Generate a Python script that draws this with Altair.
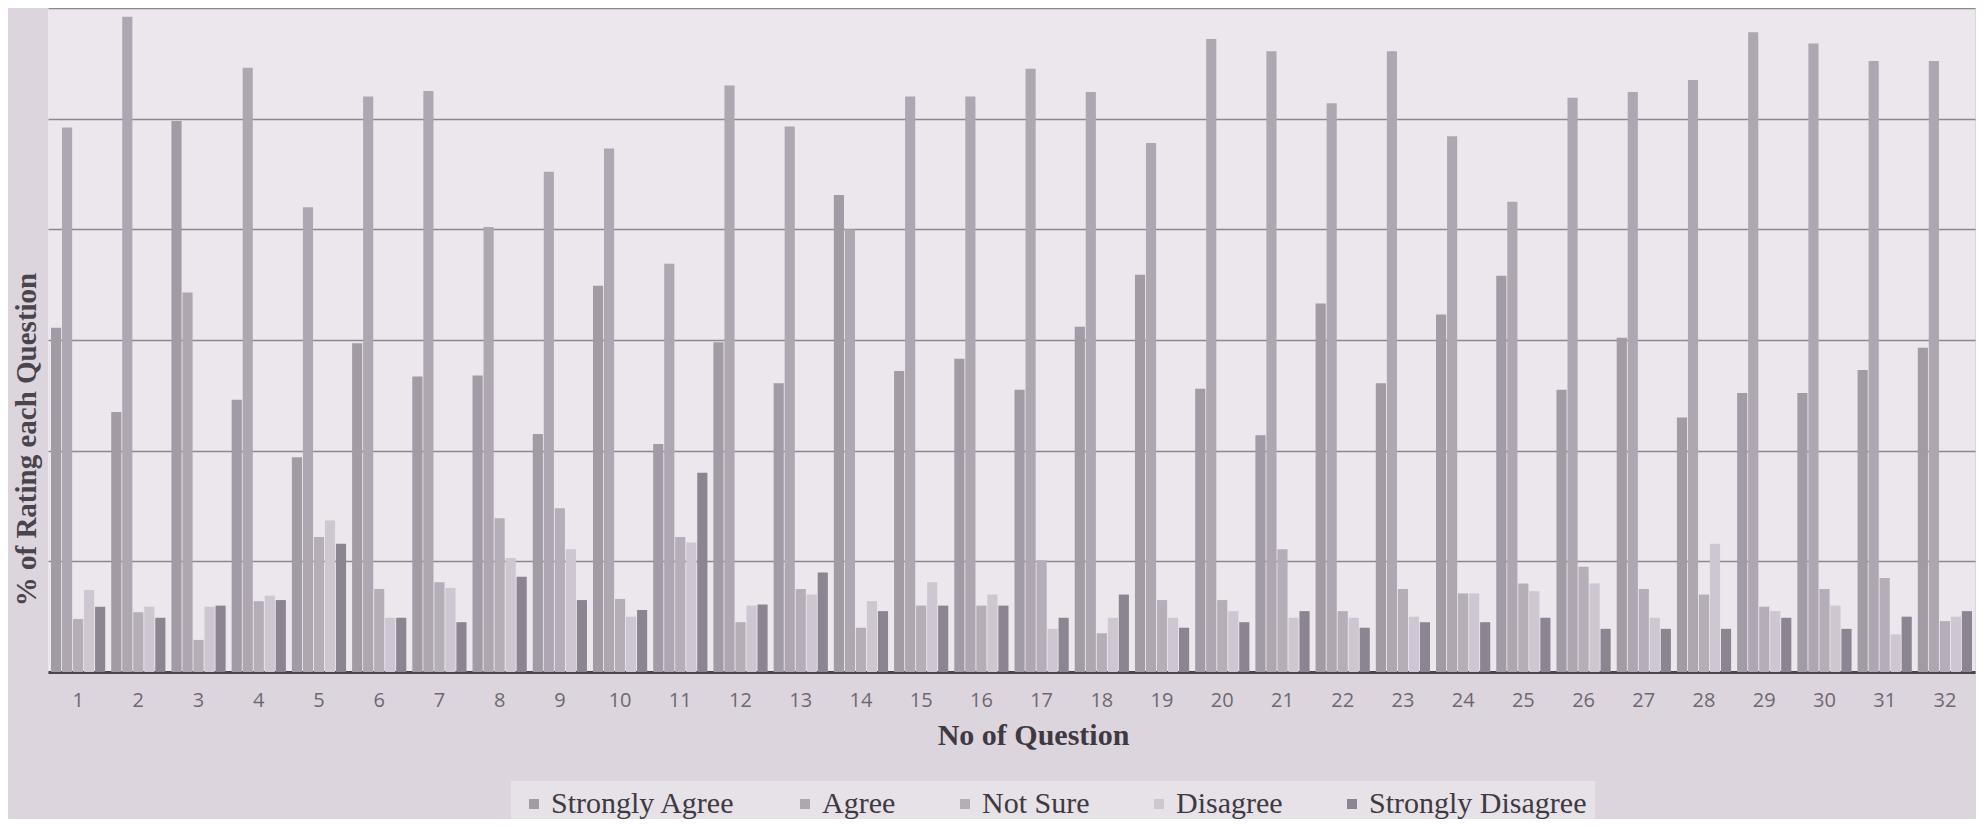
import altair as alt
import pandas as pd

questions = [str(i) for i in range(1, 33)]
series = ["Strongly Agree", "Agree", "Not Sure", "Disagree", "Strongly Disagree"]
colors = ["#a29aa5", "#aea6b1", "#b5adb8", "#cec6d1", "#8c8490"]

strongly_agree = [31.1, 23.5, 49.8, 24.6, 19.4, 29.7, 26.7, 26.8, 21.5, 34.9, 20.6, 29.8, 26.1, 43.1, 27.2, 28.3,
                  25.5, 31.2, 35.9, 25.6, 21.4, 33.3, 26.1, 32.3, 35.8, 25.5, 30.2, 23.0, 25.2, 25.2, 27.3, 29.3]
agree = [49.2, 59.2, 34.3, 54.6, 42.0, 52.0, 52.5, 40.2, 45.2, 47.3, 36.9, 53.0, 49.3, 40.0, 52.0, 52.0,
         54.5, 52.4, 47.8, 57.2, 56.1, 51.4, 56.1, 48.4, 42.5, 51.9, 52.4, 53.5, 57.8, 56.8, 55.2, 55.2]
not_sure = [4.8, 5.4, 2.9, 6.4, 12.2, 7.5, 8.1, 13.9, 14.8, 6.6, 12.2, 4.5, 7.5, 4.0, 6.0, 6.0,
            10.1, 3.5, 6.5, 6.5, 11.1, 5.5, 7.5, 7.1, 8.0, 9.5, 7.5, 7.0, 5.9, 7.5, 8.5, 4.6]
disagree = [7.4, 5.9, 5.9, 6.9, 13.7, 4.9, 7.6, 10.3, 11.1, 5.0, 11.7, 6.0, 7.0, 6.4, 8.1, 7.0,
            3.9, 4.9, 4.9, 5.5, 4.9, 4.9, 5.0, 7.1, 7.3, 8.0, 4.9, 11.6, 5.5, 6.0, 3.4, 5.0]
strongly_disagree = [5.9, 4.9, 6.0, 6.5, 11.6, 4.9, 4.5, 8.6, 6.5, 5.6, 18.0, 6.1, 9.0, 5.5, 6.0, 6.0,
                     4.9, 7.0, 4.0, 4.5, 5.5, 4.0, 4.5, 4.5, 4.9, 3.9, 3.9, 3.9, 4.9, 3.9, 5.0, 5.5]

values = [strongly_agree, agree, not_sure, disagree, strongly_disagree]
rows = []
for s, vals in zip(series, values):
    for q, v in zip(questions, vals):
        rows.append({"question": q, "series": s, "value": v})
df = pd.DataFrame(rows)

chart = alt.Chart(df).mark_bar().encode(
    x=alt.X("question:N", sort=questions,
            scale=alt.Scale(paddingInner=0.1, paddingOuter=0.05),
            axis=alt.Axis(title="No of Question", labelAngle=0, ticks=False, tickSize=0,
                          labelPadding=18, labelFont="Open Sans", labelFontSize=20,
                          labelColor="#6e6871", domainColor="#4a444c", domainWidth=3,
                          titleFont="Liberation Serif", titleFontSize=30, titleFontWeight="bold",
                          titleColor="#3f3a42", titleX=985, titleY=63, titleAlign="center",
                          titleBaseline="middle")),
    xOffset=alt.XOffset("series:N", sort=series, scale=alt.Scale(paddingInner=0.08)),
    y=alt.Y("value:Q", scale=alt.Scale(domain=[0, 60], nice=False),
            axis=alt.Axis(title="% of Rating  each Question", labels=False, ticks=False, domain=False,
                          values=[0, 10, 20, 30, 40, 50, 60], grid=True, gridColor="#8d8791",
                          gridWidth=1.5, titleFont="Liberation Serif", titleFontSize=29,
                          titleFontWeight="bold", titleColor="#4a444c", titleX=-22, titleY=431,
                          titleAngle=270, titleAlign="center", titleBaseline="middle")),
    color=alt.Color("series:N", sort=series,
                    scale=alt.Scale(domain=series, range=colors),
                    legend=alt.Legend(title=None, orient="none", direction="horizontal",
                                      legendX=463, legendY=773, symbolType="square",
                                      symbolSize=100, symbolStrokeWidth=0, labelFont="Liberation Serif",
                                      labelFontSize=30, labelColor="#3f3a42", labelOffset=2,
                                      columnPadding=54, padding=8, fillColor="#e7e1e8",
                                      labelLimit=400)),
).properties(
    width=1927, height=664,
    autosize=alt.AutoSizeParams(type="none"),
    padding={"left": 40, "top": 0, "right": 1, "bottom": 147},
    background="#ddd5de",
).configure_view(fill="#ece7ed", stroke=None)

chart.save("out.html", embed_options={"renderer": "svg", "actions": False})
